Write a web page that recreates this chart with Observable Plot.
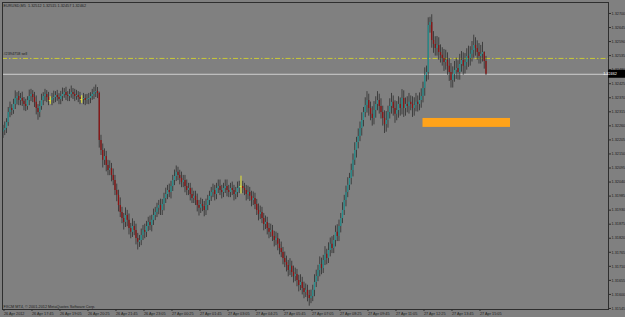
<!DOCTYPE html>
<html><head><meta charset="utf-8">
<script src="https://cdn.jsdelivr.net/npm/d3@7"></script>
<script src="https://cdn.jsdelivr.net/npm/@observablehq/plot@0.6"></script>
<style>html,body{margin:0;padding:0;background:#808080;overflow:hidden}</style>
</head><body><div id="chart"></div>
<script>
const headerText = "EURUSD,M5  1.32512 1.32515 1.32457 1.32462";
const copyrightText = "FXCM MT4, \u00A9 2001-2012 MetaQuotes Software Corp.";
const orderLabel = "#2394758 sell";
const orderLevel = 1.32524;
const bidPrice = 1.32462;
const startTime = "2012-04-26T16:25:00Z";
const barMinutes = 5;
const firstOpen = 1.32236;
const closes = [
1.32242,1.32250,1.32273,1.32312,1.32328,1.32320,1.32344,1.32367,1.32375,1.32359,
1.32367,1.32356,1.32344,1.32336,1.32359,1.32375,1.32383,1.32371,1.32352,1.32328,
1.32312,1.32336,1.32359,1.32375,1.32383,1.32371,1.32359,1.32359,1.32367,1.32371,
1.32379,1.32371,1.32363,1.32375,1.32383,1.32391,1.32379,1.32375,1.32383,1.32391,
1.32383,1.32375,1.32379,1.32371,1.32363,1.32363,1.32367,1.32359,1.32363,1.32367,
1.32375,1.32383,1.32391,1.32395,1.32387,1.32203,1.32164,1.32125,1.32140,1.32105,
1.32085,1.32093,1.32066,1.32046,1.32007,1.31988,1.31948,1.31921,1.31897,1.31882,
1.31909,1.31890,1.31858,1.31843,1.31866,1.31850,1.31819,1.31804,1.31811,1.31831,
1.31850,1.31843,1.31866,1.31882,1.31870,1.31890,1.31909,1.31921,1.31937,1.31948,
1.31929,1.31952,1.31976,1.31991,1.32007,1.31999,1.32023,1.32046,1.32062,1.32078,
1.32066,1.32054,1.32038,1.32046,1.32023,1.32007,1.32015,1.31991,1.31976,1.31984,
1.31968,1.31948,1.31937,1.31952,1.31944,1.31929,1.31948,1.31968,1.31984,1.31999,
1.32007,1.31991,1.32015,1.32023,1.32007,1.31999,1.32015,1.32023,1.32007,1.31999,
1.32015,1.32007,1.31991,1.31999,1.32015,1.32023,1.32023,1.32015,1.32007,1.31991,
1.31999,1.31984,1.31968,1.31976,1.31952,1.31929,1.31913,1.31921,1.31897,1.31874,
1.31882,1.31858,1.31843,1.31850,1.31827,1.31811,1.31819,1.31796,1.31780,1.31764,
1.31741,1.31725,1.31713,1.31694,1.31710,1.31686,1.31670,1.31678,1.31655,1.31635,
1.31647,1.31623,1.31608,1.31616,1.31596,1.31584,1.31592,1.31616,1.31647,1.31670,
1.31694,1.31717,1.31702,1.31733,1.31757,1.31741,1.31772,1.31796,1.31780,1.31811,
1.31843,1.31827,1.31866,1.31897,1.31929,1.31968,1.31999,1.32027,1.32054,1.32085,
1.32125,1.32164,1.32195,1.32218,1.32250,1.32281,1.32312,1.32340,1.32359,1.32328,
1.32305,1.32289,1.32320,1.32344,1.32359,1.32336,1.32312,1.32289,1.32265,1.32281,
1.32312,1.32336,1.32352,1.32328,1.32305,1.32320,1.32344,1.32328,1.32367,1.32328,
1.32344,1.32336,1.32352,1.32344,1.32328,1.32340,1.32352,1.32344,1.32359,1.32375,
1.32406,1.32457,1.32469,1.32653,1.32665,1.32594,1.32579,1.32563,1.32575,1.32547,
1.32536,1.32524,1.32508,1.32516,1.32493,1.32469,1.32438,1.32461,1.32477,1.32485,
1.32469,1.32500,1.32516,1.32493,1.32508,1.32532,1.32524,1.32540,1.32555,1.32575,
1.32563,1.32547,1.32532,1.32540,1.32547,1.32512,1.32462];
// wick lengths above / below the body, in pips
const wickUpPips = [
2,2.5,1.5,2,2.5,1.5,2,3,1.5,2,
2,2.5,1.5,2,1.5,2.5,2,1.5,2,2.5,
1.5,2,2.5,1.5,2,1.5,2,1.5,2,2.5,
1.5,2,1.5,2,2.5,1.5,2,1.5,2,2.5,
1.5,2,2,1.5,2,1.5,2,1.5,2,2,
1.5,2,2,2.5,1.5,0.5,2,2.5,3,2,
2,3,2,2.5,2,2.5,2,3,2,2,
3,2,2.5,2,3,2,2.5,2,2,2.5,
2,2.5,2,2,2.5,2,2.5,2,2,2,
2.5,2,2,2.5,2,2.5,2,2,2.5,2.5,
2,2,2.5,2,2,2.5,2,2,2.5,2,
2,2.5,2,2.5,2,2,2.5,2,2,2,
2.5,2,2,2.5,2.5,2,2,2.5,2.5,2,
2,2.5,2,2,2.5,2,4,2,2,2,
2.5,2,2,2.5,2,2,2.5,2.5,2,2,
2.5,2,2,2.5,2,2,2.5,2,2,2.5,
2,2.5,2.5,2,3,2,2.5,2.5,2,2,
3,2,2.5,2.5,2,2,2.5,2,3,2.5,
2,3,2.5,2,3,2,3,2.5,3,2,
2.5,3,2.5,2,3,2,2.5,3,2,2.5,
2.5,3,2,3,2.5,3,2,3,3.5,2.5,
2.5,3,3.5,3,3.5,2.5,3,2.5,3,3.5,
2.5,3,3.5,2.5,3,3.5,3,2.5,3.5,3,
2.5,3,3.5,2.5,3,3,3.5,2.5,3,3,
2.5,3,2.5,3,2,3,3.5,3,3.5,3,
3,3,3.5,4,3,3,3.5,3,3.5,4,
3,4,3.5,3,3.5,3,4,3,3.5,4,
3,3,3.5,3.5,4,0.3,2];
const wickDownPips = [
2.5,2,2,1.5,2,2,1.5,2,2.5,2,
2,2,2.5,2,1.5,2,2,2,2,2.5,
3,2,1.5,2,2,2,2,1.5,2,2,
2,1.5,2,2,2,1.5,2,2,2,1.5,
2,2,1.5,2,2,1.5,2,2,1.5,2,
2,1.5,2,2,2,3,2,3,2,2.5,
2,2,2.5,2,2,2.5,2.5,2,2,3,
2,2.5,2.5,2.5,2,2,2.5,3,2,2,
2,2.5,2,2,2,2.5,2,2,2,2.5,
2,2,2.5,2,2,2,2.5,2,2,2,
2,2.5,2,2,2.5,2,2,2.5,2,2,
2,2.5,3,2,2,2.5,2,2,2,2,
2,2.5,2,2,2,2.5,2,2,2.5,2,
2,2,2.5,2,2,2,3,2,2,2.5,
2,2,2.5,2,2,2,2.5,2,2,2.5,
2,2.5,2.5,2,2,2.5,2,2.5,2.5,2,
2.5,2,2.5,2.5,2,2,2.5,2,2.5,2.5,
2,2.5,2.5,2,2.5,3,2,2,2.5,2,
2,2.5,2.5,2,2,2.5,2,2.5,2,2,
2.5,2,2,2.5,2,2,2.5,2,2,2.5,
2.5,2,3,2.5,2,3,2.5,2,3,3,
2.5,3,2.5,3,2.5,3,2.5,3,3.5,3,
3,2.5,3,3,3.5,2.5,3,3,2.5,3.5,
3,2.5,3,2.5,3.5,3,2.5,3,2.5,3,
2.5,3,2.5,3,3,3,3.5,3,3,3,
3,3,3.5,3,3.5,3.5,3,3,3,3.5,
3,3,3,3.5,3,3,3.5,3,3,3,
3,3,3,3,3,3,0.5];
const xTickLabels = ["26 Apr 2012","26 Apr 17:45","26 Apr 19:05","26 Apr 20:25","26 Apr 21:45","26 Apr 23:05",
"27 Apr 00:25","27 Apr 01:45","27 Apr 03:05","27 Apr 04:25","27 Apr 05:45","27 Apr 07:05",
"27 Apr 08:25","27 Apr 09:45","27 Apr 11:05","27 Apr 12:25","27 Apr 13:45","27 Apr 15:05"];
const xTickEveryBars = 16;
const yTickValues = [1.32700,1.32645,1.32590,1.32535,1.32480,1.32425,1.32370,1.32315,1.32260,1.32205,1.32150,
1.32095,1.32040,1.31985,1.31930,1.31875,1.31820,1.31765,1.31710,1.31655,1.31600,1.31545];
const zoneBars = [240, 290];
const zonePrices = [1.32254, 1.32289];

const t0 = new Date(startTime).getTime();
const minute = 60000;
const barTime = i => new Date(t0 + i * barMinutes * minute);
const bars = closes.map((c, i) => {
  const o = i === 0 ? firstOpen : closes[i - 1];
  return {
    t: barTime(i), open: o, close: c,
    high: Math.max(o, c) + wickUpPips[i] / 10000,
    low: Math.min(o, c) - wickDownPips[i] / 10000,
    doji: o === c, up: c > o
  };
});
const tickDates = xTickLabels.map((_, k) => barTime(k * xTickEveryBars));
const labelByTime = new Map(tickDates.map((d, k) => [+d, xTickLabels[k]]));
const zone = [{x1: barTime(zoneBars[0]), x2: barTime(zoneBars[1]), y1: zonePrices[0], y2: zonePrices[1]}];

const W = 625, H = 317;
const txt = "#1c1c1c";
const fs = 3.8;
const chart = Plot.plot({
  width: W, height: H,
  marginLeft: 2, marginRight: 17, marginTop: 2, marginBottom: 8,
  style: {background: "#808080", fontFamily: "'Liberation Sans', Arial, sans-serif", fontSize: fs + "px", color: txt},
  x: {type: "utc", domain: [new Date(t0 - 1.4 * minute), new Date(t0 + 346 * barMinutes * minute)]},
  y: {domain: [1.31541, 1.32743]},
  marks: [
    Plot.rect(zone, {x1: "x1", x2: "x2", y1: "y1", y2: "y2", fill: "#ffa31a"}),
    Plot.ruleY([orderLevel], {stroke: "#c9c934", strokeWidth: 1, strokeDasharray: "5,2,1.5,2"}),
    Plot.ruleY([bidPrice], {stroke: "#cfcfcf", strokeWidth: 1}),
    Plot.ruleX(bars, {x: "t", y1: "low", y2: "high", stroke: d => d.doji ? "#e6e632" : "#222222", strokeWidth: d => d.doji ? 1 : 0.7}),
    Plot.ruleX(bars.filter(d => !d.doji), {x: "t", y1: "open", y2: "close", stroke: d => d.up ? "#26908f" : "#8e1414", strokeWidth: 1.3}),
    Plot.ruleY(bars.filter(d => d.doji), {y: "close", x1: d => new Date(+d.t - 2.5 * minute), x2: d => new Date(+d.t + 2.5 * minute), stroke: "#e6e632", strokeWidth: 1}),
    Plot.text([headerText], {frameAnchor: "top-left", dx: 1, dy: 1.5, fill: txt, fontSize: fs}),
    Plot.text([orderLabel], {frameAnchor: "left", y: orderLevel, dx: 1, dy: -4.5, fill: txt, fontSize: fs}),
    Plot.text([copyrightText], {frameAnchor: "bottom-left", dx: 1, dy: -2, fill: txt, fontSize: fs}),
    Plot.frame({stroke: "#2e2e2e", strokeWidth: 1}),
    Plot.axisX(tickDates, {anchor: "bottom", tickSize: 2, tickPadding: 0.5, textAnchor: "start", dx: 1, fontSize: fs,
      tickFormat: d => labelByTime.get(+d), stroke: "#2e2e2e", fill: txt}),
    Plot.axisY(yTickValues, {anchor: "right", tickSize: 2, tickPadding: 1, fontSize: fs,
      tickFormat: d => d.toFixed(5), stroke: "#2e2e2e", fill: txt})
  ]
});
document.getElementById("chart").appendChild(chart);
// current bid price tag on the price scale
const ys = chart.scale("y");
const yb = ys.apply(bidPrice);
const svg = d3.select(chart);
const tag = svg.append("g");
tag.append("rect").attr("x", W - 17).attr("y", yb - 4).attr("width", 17).attr("height", 8).attr("fill", "#000");
tag.append("text").attr("x", W - 15).attr("y", yb).attr("dy", "0.35em").attr("fill", "#fff")
  .attr("font-size", fs + "px").attr("font-family", "'Liberation Sans', Arial, sans-serif").text(bidPrice.toFixed(5));
</script>
</body></html>
